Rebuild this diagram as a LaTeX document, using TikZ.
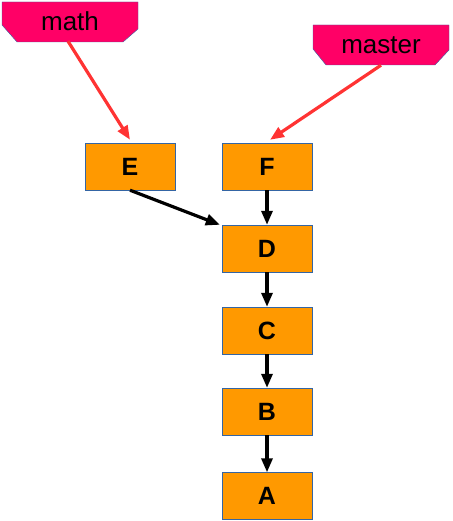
\documentclass[tikz,border=0pt]{standalone}
\usepackage{fontspec}
\setmainfont{Liberation Sans}
\usetikzlibrary{arrows.meta}
\definecolor{tag-pink}{HTML}{FF0066}
\definecolor{box-orange}{HTML}{FF9900}
\definecolor{edge-blue}{HTML}{3465A4}
\definecolor{ref-red}{HTML}{FF3333}

\begin{document}
\begin{tikzpicture}[x=1pt, y=1pt,
    commit/.style={draw=edge-blue, fill=box-orange, minimum width=90pt,
          minimum height=47pt, inner sep=0pt, font=\fontsize{25}{28}\selectfont\bfseries},
    tagtext/.style={inner sep=0pt, minimum width=136pt, minimum height=40pt,
          font=\fontsize{26}{30}\selectfont},
    tagshape/.style={draw=edge-blue, fill=tag-pink},
    parent/.style={-{Triangle[length=14pt, width=11pt]}, line width=3.2pt, black},
    ref/.style={-{Triangle[length=14pt, width=11pt]}, line width=3.2pt, ref-red}]
    % Diagram: branch refs pointing at commits, commits pointing at parents.
    % Coordinates: (x, y) in pt, y going down from the top edge
    %   commits 90pt x 47pt, main column at x=267
    %   tags 136pt x 40pt with cut lower corners
    \useasboundingbox (0,0) rectangle (452,-521);
    \path[tagshape] (2,-2) -- (138,-2) -- (138,-29) -- (123,-42)
          -- (17,-42) -- (2,-25) -- cycle;
    \node[tagtext] (math) at (70,-21) {math};
    \path[tagshape] (313,-25) -- (449,-25) -- (449,-50) -- (435,-65)
          -- (326,-65) -- (313,-49) -- cycle;
    \node[tagtext] (master) at (381,-45) {master};
    \node[commit] (E) at (130,-166.5) {E};
    \node[commit] (F) at (267,-166.5) {F};
    \node[commit] (D) at (267,-248.5) {D};
    \node[commit] (C) at (267,-330.5) {C};
    \node[commit] (B) at (267,-411.5) {B};
    \node[commit] (A) at (267,-496) {A};
    \draw[ref] ([xshift=-2pt]math.south) -- ([yshift=3pt]E.north);
    \draw[ref] (master.south) -- ([xshift=3pt, yshift=3pt]F.north);
    \draw[parent] (E.south) -- ([xshift=-2pt]D.north west);
    \draw[parent] (F) -- (D);
    \draw[parent] (D) -- (C);
    \draw[parent] (C) -- (B);
    \draw[parent] (B) -- (A);
  \end{tikzpicture}
\end{document}
